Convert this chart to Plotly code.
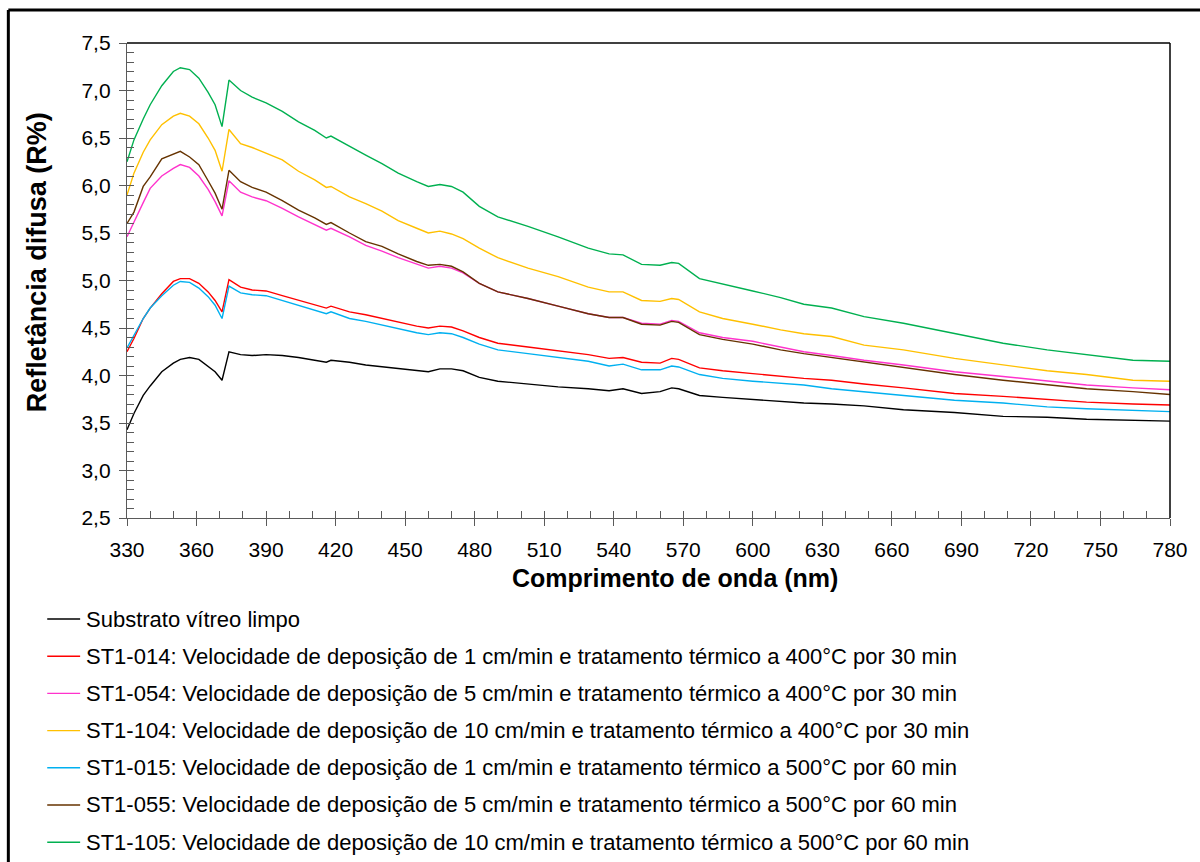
import plotly.graph_objects as go

# Wavelength grid (nm)
wavelength = [330, 333, 337, 340, 345, 350, 353, 357, 361, 365, 368, 371, 374, 379, 384,
              390, 397, 404, 411, 416, 418, 426, 433, 440, 447, 455, 460, 465, 470, 475,
              482, 490, 503, 516, 529, 538, 544, 552, 560, 565, 568, 577, 587, 600, 612,
              622, 634, 648, 665, 687, 708, 727, 744, 764, 780]

# Diffuse reflectance (R%) per sample
substrato = [3.43, 3.60, 3.79, 3.89, 4.04, 4.13, 4.17, 4.19, 4.17, 4.10, 4.04, 3.95, 4.25, 4.22, 4.21,
             4.22, 4.21, 4.19, 4.16, 4.14, 4.16, 4.14, 4.11, 4.09, 4.07, 4.05, 4.04, 4.07, 4.07, 4.05,
             3.98, 3.94, 3.91, 3.88, 3.86, 3.84, 3.86, 3.81, 3.83, 3.87, 3.86, 3.79, 3.77, 3.75, 3.73,
             3.71, 3.70, 3.68, 3.64, 3.61, 3.57, 3.56, 3.54, 3.53, 3.52]
st1_014 = [4.25, 4.39, 4.60, 4.71, 4.86, 4.99, 5.02, 5.02, 4.97, 4.88, 4.79, 4.67, 5.01, 4.93, 4.90,
           4.89, 4.84, 4.79, 4.74, 4.71, 4.73, 4.67, 4.64, 4.60, 4.56, 4.52, 4.50, 4.52, 4.51, 4.47,
           4.40, 4.34, 4.30, 4.26, 4.22, 4.18, 4.19, 4.14, 4.13, 4.18, 4.17, 4.08, 4.05, 4.02, 3.99,
           3.97, 3.95, 3.91, 3.87, 3.81, 3.78, 3.75, 3.72, 3.70, 3.69]
st1_054 = [5.46, 5.62, 5.82, 5.97, 6.10, 6.18, 6.22, 6.19, 6.10, 5.96, 5.83, 5.68, 6.05, 5.93, 5.88,
           5.84, 5.76, 5.67, 5.59, 5.53, 5.55, 5.46, 5.37, 5.31, 5.24, 5.17, 5.13, 5.15, 5.13, 5.08,
           4.97, 4.88, 4.81, 4.73, 4.65, 4.61, 4.61, 4.55, 4.54, 4.58, 4.57, 4.45, 4.40, 4.36, 4.30,
           4.25, 4.21, 4.16, 4.11, 4.04, 3.99, 3.94, 3.90, 3.87, 3.85]
st1_104 = [5.90, 6.13, 6.35, 6.48, 6.64, 6.73, 6.76, 6.73, 6.65, 6.50, 6.37, 6.15, 6.59, 6.44, 6.40,
           6.34, 6.27, 6.15, 6.06, 5.98, 5.99, 5.88, 5.81, 5.73, 5.63, 5.55, 5.50, 5.52, 5.49, 5.44,
           5.34, 5.24, 5.13, 5.04, 4.93, 4.88, 4.88, 4.79, 4.78, 4.81, 4.80, 4.67, 4.60, 4.54, 4.48,
           4.44, 4.41, 4.32, 4.27, 4.18, 4.11, 4.05, 4.01, 3.95, 3.94]
st1_015 = [4.29, 4.42, 4.60, 4.71, 4.84, 4.95, 4.99, 4.98, 4.92, 4.83, 4.74, 4.60, 4.94, 4.87, 4.85,
           4.84, 4.79, 4.74, 4.69, 4.65, 4.67, 4.60, 4.57, 4.53, 4.49, 4.45, 4.43, 4.45, 4.44, 4.40,
           4.33, 4.27, 4.23, 4.19, 4.15, 4.10, 4.12, 4.06, 4.06, 4.10, 4.09, 4.01, 3.97, 3.94, 3.92,
           3.90, 3.86, 3.83, 3.79, 3.74, 3.71, 3.67, 3.65, 3.63, 3.62]
st1_055 = [5.60, 5.72, 5.99, 6.09, 6.28, 6.33, 6.36, 6.30, 6.22, 6.05, 5.92, 5.75, 6.16, 6.04, 5.98,
           5.93, 5.84, 5.74, 5.66, 5.59, 5.61, 5.50, 5.41, 5.36, 5.28, 5.20, 5.16, 5.17, 5.15, 5.09,
           4.97, 4.88, 4.81, 4.73, 4.65, 4.61, 4.61, 4.54, 4.53, 4.57, 4.56, 4.43, 4.38, 4.33, 4.27,
           4.23, 4.19, 4.14, 4.08, 4.01, 3.95, 3.90, 3.86, 3.83, 3.80]
st1_105 = [6.25, 6.48, 6.70, 6.85, 7.05, 7.20, 7.24, 7.22, 7.13, 6.98, 6.85, 6.62, 7.11, 7.00, 6.93,
           6.87, 6.78, 6.67, 6.58, 6.50, 6.52, 6.41, 6.32, 6.23, 6.13, 6.04, 5.99, 6.01, 5.99, 5.93,
           5.78, 5.67, 5.57, 5.46, 5.34, 5.28, 5.27, 5.17, 5.16, 5.19, 5.18, 5.02, 4.96, 4.89, 4.82,
           4.75, 4.71, 4.62, 4.55, 4.44, 4.34, 4.27, 4.22, 4.16, 4.15]

series_names = [
    "Substrato vítreo limpo",
    "ST1-014: Velocidade de deposição de 1 cm/min e tratamento térmico a 400°C por 30 min",
    "ST1-054: Velocidade de deposição de 5 cm/min e tratamento térmico a 400°C por 30 min",
    "ST1-104: Velocidade de deposição de 10 cm/min e tratamento térmico a 400°C por 30 min",
    "ST1-015: Velocidade de deposição de 1 cm/min e tratamento térmico a 500°C por 60 min",
    "ST1-055: Velocidade de deposição de 5 cm/min e tratamento térmico a 500°C por 60 min",
    "ST1-105: Velocidade de deposição de 10 cm/min e tratamento térmico a 500°C por 60 min",
]
series_values = [substrato, st1_014, st1_054, st1_104, st1_015, st1_055, st1_105]
series_colors = ["#000000", "#FF0000", "#FF33CC", "#FFC000", "#00B0F0", "#663300", "#00B050"]

x_ticks = list(range(330, 781, 30))
y_ticks = [2.5 + 0.5 * i for i in range(11)]

FONT = "Liberation Sans, Arial, sans-serif"
AXIS_GREY = "#5A5A5A"

# Figure geometry (pixels) used to place the key below the plot in paper units
W, H = 1200, 862
ML, MR, MT, MB = 127, 27, 43, 344
PW, PH = W - ML - MR, H - MT - MB


def px_x(px):
    return (px - ML) / PW


def px_y(py):
    return (H - MB - py) / PH


fig = go.Figure()
for name, vals, col in zip(series_names, series_values, series_colors):
    fig.add_trace(go.Scatter(
        x=wavelength, y=vals, mode="lines", name=name,
        line=dict(color=col, width=1.4),
    ))

# Invisible trace on the overlay axes so the inner tick marks get drawn
fig.add_trace(go.Scatter(x=[330], y=[2.5], xaxis="x2", yaxis="y2",
                         mode="markers", marker=dict(opacity=0),
                         showlegend=False, hoverinfo="skip"))

# Key below the chart: one short line sample and one label per series
key_shapes, key_labels = [], []
for i, (name, col) in enumerate(zip(series_names, series_colors)):
    row_y = 619 + 37.2 * i
    key_shapes.append(dict(type="line", xref="paper", yref="paper",
                           x0=px_x(47), x1=px_x(80), y0=px_y(row_y), y1=px_y(row_y),
                           line=dict(color=col, width=1.4)))
    key_labels.append(dict(text=name, x=px_x(84), y=px_y(row_y),
                           xref="paper", yref="paper", xanchor="left", yanchor="middle",
                           showarrow=False,
                           font=dict(family=FONT, size=22, color="#000000")))

fig.update_layout(
    width=W, height=H,
    margin=dict(l=ML, r=MR, t=MT, b=MB),
    paper_bgcolor="white", plot_bgcolor="white",
    font=dict(family=FONT, size=21, color="#000000"),
    showlegend=False,
    xaxis=dict(
        range=[330, 780], tickvals=x_ticks, ticktext=[str(v) for v in x_ticks],
        ticks="outside", ticklen=7, tickwidth=1.3, tickcolor=AXIS_GREY,
        showline=True, linecolor=AXIS_GREY, linewidth=1.3,
        showgrid=False, zeroline=False, ticklabelstandoff=6,
        tickfont=dict(family=FONT, size=21, color="#000000"),
    ),
    yaxis=dict(
        range=[2.5, 7.5], tickvals=y_ticks,
        ticktext=[f"{v:.1f}".replace(".", ",") for v in y_ticks],
        ticks="outside", ticklen=7, tickwidth=1.3, tickcolor=AXIS_GREY,
        showline=True, linecolor=AXIS_GREY, linewidth=1.3,
        showgrid=False, zeroline=False, ticklabelstandoff=4,
        tickfont=dict(family=FONT, size=21, color="#000000"),
    ),
    xaxis2=dict(
        overlaying="x", range=[330, 780], tick0=330, dtick=10,
        ticks="inside", ticklen=7, tickwidth=1.3, tickcolor=AXIS_GREY,
        showticklabels=False, showgrid=False, zeroline=False, showline=False,
        side="bottom",
    ),
    yaxis2=dict(
        overlaying="y", range=[2.5, 7.5], tick0=2.5, dtick=0.1,
        ticks="inside", ticklen=7, tickwidth=1.3, tickcolor=AXIS_GREY,
        showticklabels=False, showgrid=False, zeroline=False, showline=False,
        side="left",
    ),
    annotations=[
        dict(text="<b>Comprimento de onda (nm)</b>", x=px_x(677), y=px_y(578),
             xref="paper", yref="paper", xanchor="center", yanchor="middle",
             showarrow=False, font=dict(family=FONT, size=25, color="#000000")),
        dict(text="<b>Refletância difusa (R%)</b>", x=px_x(37), y=px_y(262),
             xref="paper", yref="paper", xanchor="center", yanchor="middle",
             textangle=-90, showarrow=False,
             font=dict(family=FONT, size=27, color="#000000")),
    ] + key_labels,
    shapes=[
        # top and right edges of the plot area
        dict(type="line", xref="paper", yref="paper", x0=0, x1=1, y0=1, y1=1,
             line=dict(color="#000000", width=1.5)),
        dict(type="line", xref="paper", yref="paper", x0=1, x1=1, y0=0, y1=1,
             line=dict(color="#000000", width=1.5)),
        # outer frame around the figure
        dict(type="line", xref="paper", yref="paper", x0=px_x(8), x1=px_x(8),
             y0=px_y(870), y1=px_y(10), line=dict(color="#000000", width=3)),
        dict(type="line", xref="paper", yref="paper", x0=px_x(8), x1=px_x(1210),
             y0=px_y(10), y1=px_y(10), line=dict(color="#000000", width=3)),
    ] + key_shapes,
)

fig.write_html("out.html")
